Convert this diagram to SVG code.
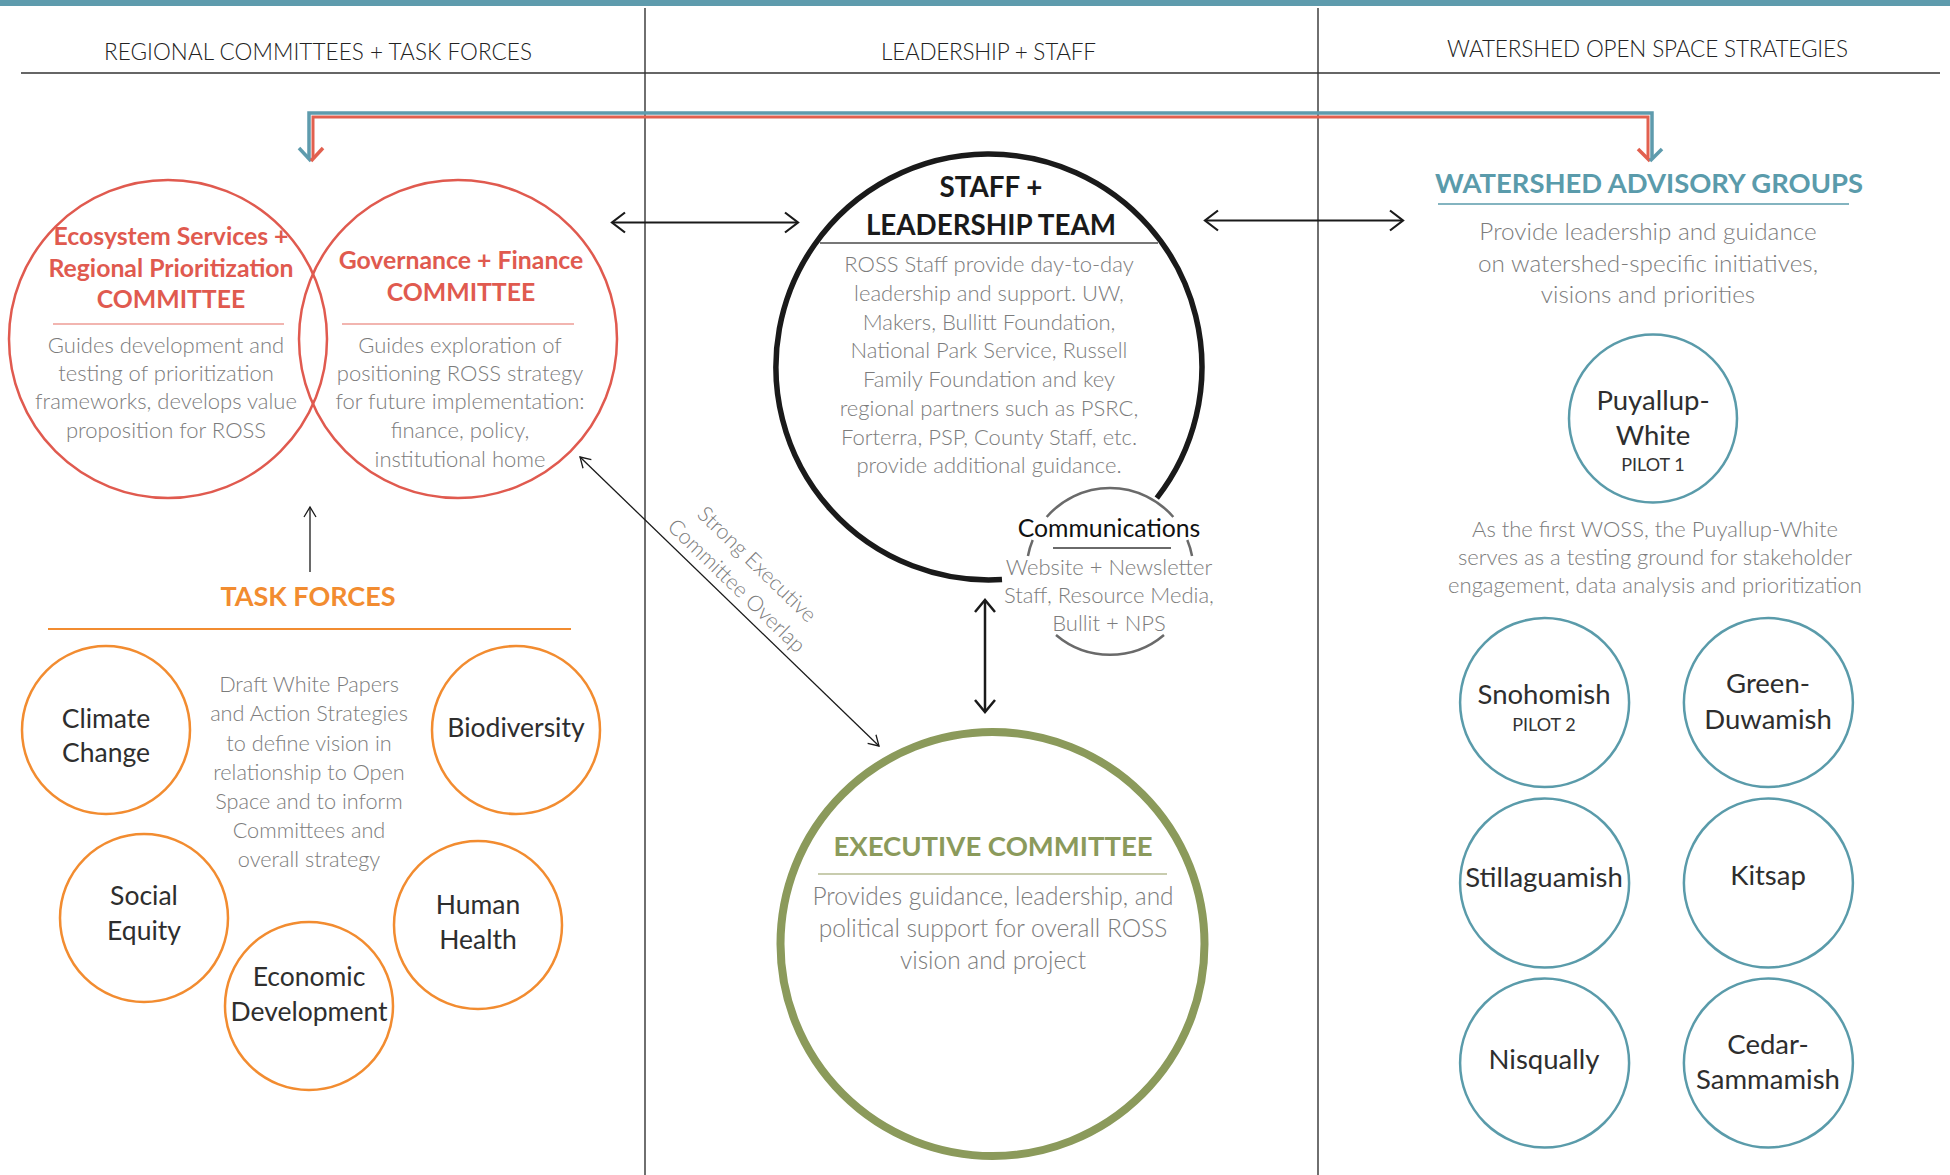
<svg xmlns="http://www.w3.org/2000/svg" width="1950" height="1175" viewBox="0 0 1950 1175">
<defs>
<style>
text{font-family:Lato,'Liberation Sans',sans-serif;text-anchor:middle}
.hdr{font-size:22.5px;font-weight:300;fill:#222;text-anchor:start}
.body{font-size:22px;font-weight:300;fill:#7c7c7c}
.redT{font-size:24.8px;font-weight:bold;fill:#E05A4F}
.lbl{font-size:26.5px;fill:#2e2e2e}
.wl{font-size:27.5px;fill:#2e2e2e}
.pilot{font-size:18px;fill:#333}
.tf{fill:none;stroke:#F28C30;stroke-width:2.5}
.ws{fill:none;stroke:#5A9BAA;stroke-width:2.5}
.com{fill:none;stroke:#E05A4F;stroke-width:2.5}
.arr{fill:none;stroke:#1a1a1a}
</style>
<marker id="chevL" viewBox="-16 -12 18 24" refX="0" refY="0" markerWidth="18" markerHeight="24" orient="auto-start-reverse" markerUnits="userSpaceOnUse"><path d="M-13,-10 L0,0 L-13,10" fill="none" stroke="#1a1a1a" stroke-width="2.2"/></marker>
<marker id="chevV" viewBox="-16 -12 18 24" refX="0" refY="0" markerWidth="18" markerHeight="24" orient="auto-start-reverse" markerUnits="userSpaceOnUse"><path d="M-12,-10 L0,0 L-12,10" fill="none" stroke="#1a1a1a" stroke-width="2.5"/></marker>
<marker id="chevS" viewBox="-12 -8 14 16" refX="0" refY="0" markerWidth="14" markerHeight="16" orient="auto-start-reverse" markerUnits="userSpaceOnUse"><path d="M-10,-6 L0,0 L-10,6" fill="none" stroke="#1a1a1a" stroke-width="1.3"/></marker>
</defs>
<rect width="1950" height="1175" fill="#fff"/>
<rect x="0" y="0" width="1950" height="6" fill="#5E9BAD"/>

<g id="layout" stroke="#333" stroke-width="1.4">
<line x1="21" y1="73" x2="1940" y2="73"/>
<line x1="645" y1="8" x2="645" y2="1175"/>
<line x1="1318" y1="8" x2="1318" y2="1175"/>
</g>
<g id="headers">
<text class="hdr" x="104" y="60" textLength="428">REGIONAL COMMITTEES + TASK FORCES</text>
<text class="hdr" x="881" y="60" textLength="215">LEADERSHIP + STAFF</text>
<text class="hdr" x="1447" y="57" textLength="401">WATERSHED OPEN SPACE STRATEGIES</text>
</g>

<g id="connectors">
<path d="M309,159 V113 H1652 V159" fill="none" stroke="#5E9BAD" stroke-width="3.5"/>
<path d="M313,159 V117 H1648 V159" fill="none" stroke="#E2604F" stroke-width="3"/>
<path d="M299,148 L311,161" fill="none" stroke="#5E9BAD" stroke-width="3.5"/>
<path d="M311,161 L323,148" fill="none" stroke="#E2604F" stroke-width="3.5"/>
<path d="M1638,149 L1650,161" fill="none" stroke="#E2604F" stroke-width="3.5"/>
<path d="M1650,161 L1662,149" fill="none" stroke="#5E9BAD" stroke-width="3.5"/>
<line class="arr" x1="612" y1="222.5" x2="798" y2="222.5" stroke-width="2.2" marker-start="url(#chevL)" marker-end="url(#chevL)"/>
<line class="arr" x1="1205" y1="220.5" x2="1403" y2="220.5" stroke-width="2.2" marker-start="url(#chevL)" marker-end="url(#chevL)"/>
<line class="arr" x1="985" y1="600" x2="985" y2="712" stroke-width="2.5" marker-start="url(#chevV)" marker-end="url(#chevV)"/>
<line class="arr" x1="310" y1="572" x2="310" y2="507" stroke-width="1.3" marker-end="url(#chevS)"/>
<line class="arr" x1="580" y1="457" x2="879" y2="746" stroke-width="1.3" marker-start="url(#chevS)" marker-end="url(#chevS)"/>
<text class="body" transform="translate(752,569.5) rotate(44)" style="font-size:21.5px">Strong Executive</text>
<text class="body" transform="translate(731.5,591) rotate(44)" style="font-size:21.5px">Committee Overlap</text>
</g>

<g id="ecosystem-committee">
<circle class="com" cx="168" cy="339" r="159"/>
<text class="redT" x="171" y="245">Ecosystem Services +</text>
<text class="redT" x="171" y="277">Regional Prioritization</text>
<text class="redT" x="171" y="308">COMMITTEE</text>
<line x1="53" y1="324" x2="284" y2="324" stroke="#F2B5B0" stroke-width="2"/>
<text class="body" x="166" y="353">Guides development and</text>
<text class="body" x="166" y="381">testing of prioritization</text>
<text class="body" x="166" y="409">frameworks, develops value</text>
<text class="body" x="166" y="438">proposition for ROSS</text>
</g>
<g id="governance-committee">
<circle class="com" cx="458" cy="339" r="159"/>
<text class="redT" x="461" y="269">Governance + Finance</text>
<text class="redT" x="461" y="301">COMMITTEE</text>
<line x1="342" y1="324" x2="574" y2="324" stroke="#F2B5B0" stroke-width="2"/>
<text class="body" x="460" y="353">Guides exploration of</text>
<text class="body" x="460" y="381">positioning ROSS strategy</text>
<text class="body" x="460" y="409">for future implementation:</text>
<text class="body" x="460" y="438">finance, policy,</text>
<text class="body" x="460" y="467">institutional home</text>
</g>

<g id="task-forces">
<text x="308" y="606" style="font-size:27px;font-weight:bold;fill:#F28C30">TASK FORCES</text>
<line x1="48" y1="629" x2="571" y2="629" stroke="#F28C30" stroke-width="2"/>
<text class="body" x="309" y="692" style="font-size:21.7px">Draft White Papers</text>
<text class="body" x="309" y="721" style="font-size:21.7px">and Action Strategies</text>
<text class="body" x="309" y="751" style="font-size:21.7px">to define vision in</text>
<text class="body" x="309" y="780" style="font-size:21.7px">relationship to Open</text>
<text class="body" x="309" y="809" style="font-size:21.7px">Space and to inform</text>
<text class="body" x="309" y="838" style="font-size:21.7px">Committees and</text>
<text class="body" x="309" y="867" style="font-size:21.7px">overall strategy</text>
</g>
<g id="tf-climate"><circle class="tf" cx="106" cy="730" r="84"/><text class="lbl" x="106" y="728">Climate</text><text class="lbl" x="106" y="762">Change</text></g>
<g id="tf-biodiversity"><circle class="tf" cx="516" cy="730" r="84"/><text class="lbl" x="516" y="737">Biodiversity</text></g>
<g id="tf-social"><circle class="tf" cx="144" cy="918" r="84"/><text class="lbl" x="144" y="905">Social</text><text class="lbl" x="144" y="940">Equity</text></g>
<g id="tf-economic"><circle class="tf" cx="309" cy="1006" r="84"/><text class="lbl" x="309" y="986">Economic</text><text class="lbl" x="309" y="1021">Development</text></g>
<g id="tf-health"><circle class="tf" cx="478" cy="925" r="84"/><text class="lbl" x="478" y="914">Human</text><text class="lbl" x="478" y="949">Health</text></g>

<g id="staff-leadership">
<path d="M1156.8,498.1 A213 213 0 1 0 1002,579.6" fill="none" stroke="#1a1a1a" stroke-width="5.5"/>
<text x="991" y="197" style="font-size:27.8px;font-weight:bold;fill:#1a1a1a">STAFF +</text>
<text x="991" y="235" style="font-size:27.8px;font-weight:bold;fill:#1a1a1a">LEADERSHIP TEAM</text>
<line x1="820" y1="243" x2="1158" y2="243" stroke="#777" stroke-width="1.8"/>
<text class="body" x="989" y="272">ROSS Staff provide day-to-day</text>
<text class="body" x="989" y="301">leadership and support. UW,</text>
<text class="body" x="989" y="330">Makers, Bullitt Foundation,</text>
<text class="body" x="989" y="358">National Park Service, Russell</text>
<text class="body" x="989" y="387">Family Foundation and key</text>
<text class="body" x="989" y="416">regional partners such as PSRC,</text>
<text class="body" x="989" y="445">Forterra, PSP, County Staff, etc.</text>
<text class="body" x="989" y="473">provide additional guidance.</text>
</g>
<g id="communications">
<g fill="none" stroke="#6a6a6a" stroke-width="2.5">
<path d="M1046.7,517 A83.5 83.5 0 0 1 1173.3,517"/>
<path d="M1032.7,540 A83.5 83.5 0 0 0 1027.95,556"/>
<path d="M1187.3,540 A83.5 83.5 0 0 1 1192.05,556"/>
<path d="M1164,635 A83.5 83.5 0 0 1 1056,635"/>
</g>
<text x="1109" y="537" style="font-size:24.8px;fill:#111">Communications</text>
<line x1="1053" y1="548" x2="1171" y2="548" stroke="#6a6a6a" stroke-width="1.8"/>
<text class="body" x="1109" y="575">Website + Newsletter</text>
<text class="body" x="1109" y="603">Staff, Resource Media,</text>
<text class="body" x="1109" y="631">Bullit + NPS</text>
</g>

<g id="executive-committee">
<circle cx="992.5" cy="944" r="212" fill="none" stroke="#8B9A5B" stroke-width="8"/>
<text x="993" y="856" style="font-size:27.5px;font-weight:bold;fill:#8B9A5B">EXECUTIVE COMMITTEE</text>
<line x1="818" y1="874" x2="1167" y2="874" stroke="#C8CCAE" stroke-width="2"/>
<text class="body" x="993" y="905" style="font-size:24.5px">Provides guidance, leadership, and</text>
<text class="body" x="993" y="937" style="font-size:24.5px">political support for overall ROSS</text>
<text class="body" x="993" y="969" style="font-size:24.5px">vision and project</text>
</g>

<g id="watershed-advisory">
<text x="1649" y="193" style="font-size:27.4px;font-weight:bold;fill:#5A9BAB">WATERSHED ADVISORY GROUPS</text>
<line x1="1438" y1="204" x2="1849" y2="204" stroke="#5A9BAB" stroke-width="1.6"/>
<text class="body" x="1648" y="240" style="font-size:24.3px">Provide leadership and guidance</text>
<text class="body" x="1648" y="272" style="font-size:24.3px">on watershed-specific initiatives,</text>
<text class="body" x="1648" y="303" style="font-size:24.3px">visions and priorities</text>
<text class="body" x="1655" y="537" style="font-size:22px">As the first WOSS, the Puyallup-White</text>
<text class="body" x="1655" y="565" style="font-size:22px">serves as a testing ground for stakeholder</text>
<text class="body" x="1655" y="593" style="font-size:22px">engagement, data analysis and prioritization</text>
</g>
<g id="ws-puyallup"><circle class="ws" cx="1653" cy="418.5" r="84"/><text class="wl" x="1653" y="410">Puyallup-</text><text class="wl" x="1653" y="445">White</text><text class="pilot" x="1653" y="471">PILOT 1</text></g>
<g id="ws-snohomish"><circle class="ws" cx="1544.6" cy="702.6" r="84.5"/><text class="wl" x="1544" y="704">Snohomish</text><text class="pilot" x="1544" y="731">PILOT 2</text></g>
<g id="ws-green"><circle class="ws" cx="1768.4" cy="702.6" r="84.5"/><text class="wl" x="1768" y="693">Green-</text><text class="wl" x="1768" y="729">Duwamish</text></g>
<g id="ws-stillaguamish"><circle class="ws" cx="1544.6" cy="883" r="84.5"/><text class="wl" x="1544" y="887">Stillaguamish</text></g>
<g id="ws-kitsap"><circle class="ws" cx="1768.4" cy="883" r="84.5"/><text class="wl" x="1768" y="885">Kitsap</text></g>
<g id="ws-nisqually"><circle class="ws" cx="1544.6" cy="1063" r="84.5"/><text class="wl" x="1544" y="1069">Nisqually</text></g>
<g id="ws-cedar"><circle class="ws" cx="1768.4" cy="1063" r="84.5"/><text class="wl" x="1768" y="1054">Cedar-</text><text class="wl" x="1768" y="1089">Sammamish</text></g>
</svg>
